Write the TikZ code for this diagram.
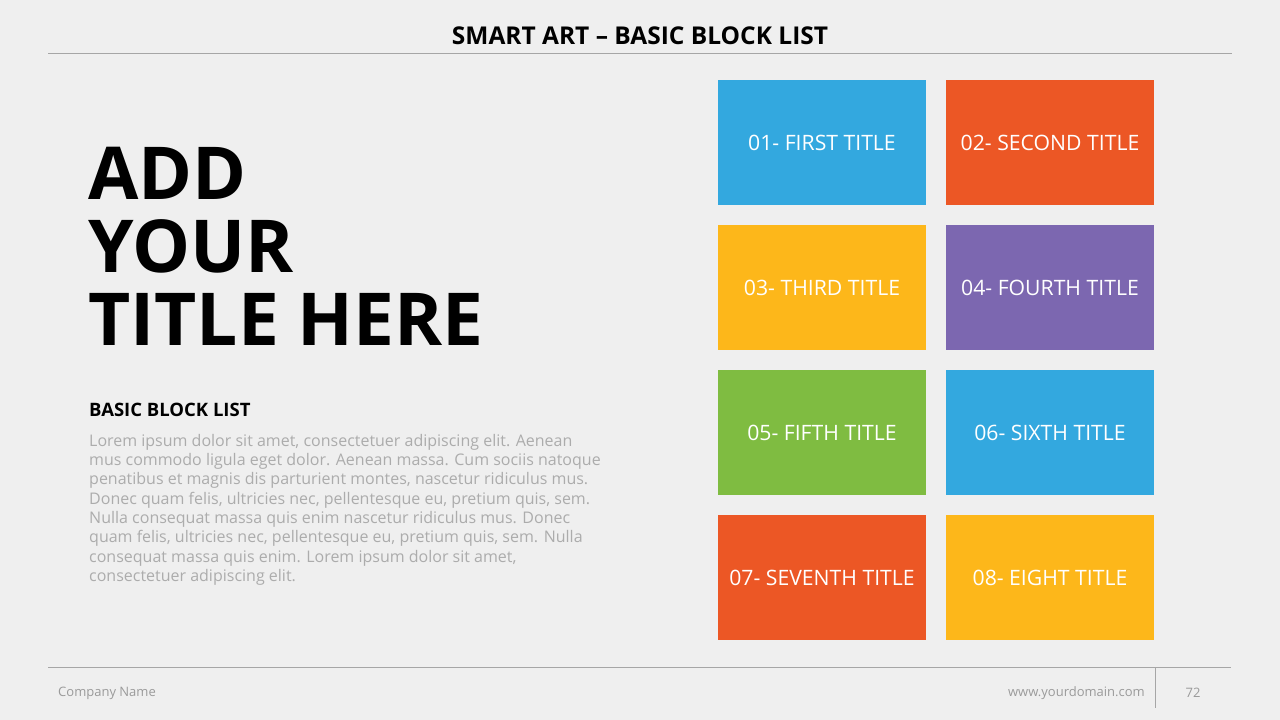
\documentclass[tikz,border=0pt]{standalone}
\usepackage{fontspec}
\setmainfont{Open Sans}
\usepackage{xcolor}

\definecolor{bgGray}{HTML}{EFEFEF}
\definecolor{ruleGray}{HTML}{A6A6A6}
\definecolor{textGray}{HTML}{ACACAC}
\definecolor{footGray}{HTML}{9A9A9A}
\definecolor{blockBlue}{HTML}{33A8DF}
\definecolor{blockRed}{HTML}{EC5725}
\definecolor{blockYellow}{HTML}{FDB71A}
\definecolor{blockPurple}{HTML}{7C67B0}
\definecolor{blockGreen}{HTML}{7FBC41}

\begin{document}
\begin{tikzpicture}[x=1pt,y=-1pt,
    block/.style={rectangle,minimum width=208pt,minimum height=125pt,inner sep=0pt,
      text=white,font=\fontsize{21.2}{25}\selectfont}]
            \fill[bgGray] (0,0) rectangle (1280,720);
            \useasboundingbox (0,0) rectangle (1280,720);

            % header and footer
            \node (head) at (640,36) [font=\fontsize{24.5}{29}\selectfont\bfseries] {SMART ART -- BASIC BLOCK LIST};
            \coordinate (hl) at (48,53);
            \coordinate (hr) at (1232,53);
            \draw[ruleGray,line width=1pt] (hl) -- (hr);

            \coordinate (fl) at (48,667);
            \coordinate (fr) at (1231,667);
            \coordinate (ft) at (1155,667);
            \coordinate (fb) at (1155,708);
            \draw[ruleGray,line width=1pt] (fl) -- (fr);
            \draw[ruleGray,line width=0.6pt] (ft) -- (fb);
            \node (company) at (58,693) [anchor=west,inner sep=0pt,text=footGray,font=\fontsize{13}{15}\selectfont] {Company Name};
            \node (domain) at (1145,693) [anchor=east,inner sep=0pt,text=footGray,font=\fontsize{13}{15}\selectfont] {www.yourdomain.com};
            \node (page) at (1193,693) [inner sep=0pt,text=footGray,font=\fontsize{13}{15}\selectfont] {72};

            % big title
            \node (t1) at (88,199) [anchor=base west,inner sep=0pt,font=\fontsize{73}{73}\selectfont\bfseries] {ADD};
            \node (t2) at (88,272) [anchor=base west,inner sep=0pt,font=\fontsize{73}{73}\selectfont\bfseries] {YOUR};
            \node (t3) at (88,345) [anchor=base west,inner sep=0pt,font=\fontsize{73}{73}\selectfont\bfseries] {TITLE HERE};

            \node (sub) at (89,416) [anchor=base west,inner sep=0pt,font=\fontsize{18.5}{22}\selectfont\bfseries] {BASIC BLOCK LIST};
            \node (body) at (89,434) [anchor=north west,inner sep=0pt,align=left,text=textGray,
              font=\fontsize{16}{19.3}\selectfont] {Lorem ipsum dolor sit amet, consectetuer adipiscing elit. Aenean\\
              mus commodo ligula eget dolor. Aenean massa. Cum sociis natoque\\
              penatibus et magnis dis parturient montes, nascetur ridiculus mus.\\
              Donec quam felis, ultricies nec, pellentesque eu, pretium quis, sem.\\
              Nulla consequat massa quis enim nascetur ridiculus mus. Donec\\
              quam felis, ultricies nec, pellentesque eu, pretium quis, sem. Nulla\\
              consequat massa quis enim. Lorem ipsum dolor sit amet,\\
              consectetuer adipiscing elit.};

            % blocks
            \node (b1) at (822,142.5) [block,fill=blockBlue] {01- FIRST TITLE};
            \node (b2) at (1050,142.5) [block,fill=blockRed] {02- SECOND TITLE};
            \node (b3) at (822,287.5) [block,fill=blockYellow] {03- THIRD TITLE};
            \node (b4) at (1050,287.5) [block,fill=blockPurple] {04- FOURTH TITLE};
            \node (b5) at (822,432.5) [block,fill=blockGreen] {05- FIFTH TITLE};
            \node (b6) at (1050,432.5) [block,fill=blockBlue] {06- SIXTH TITLE};
            \node (b7) at (822,577.5) [block,fill=blockRed] {07- SEVENTH TITLE};
            \node (b8) at (1050,577.5) [block,fill=blockYellow] {08- EIGHT TITLE};

        \end{tikzpicture}
\end{document}
